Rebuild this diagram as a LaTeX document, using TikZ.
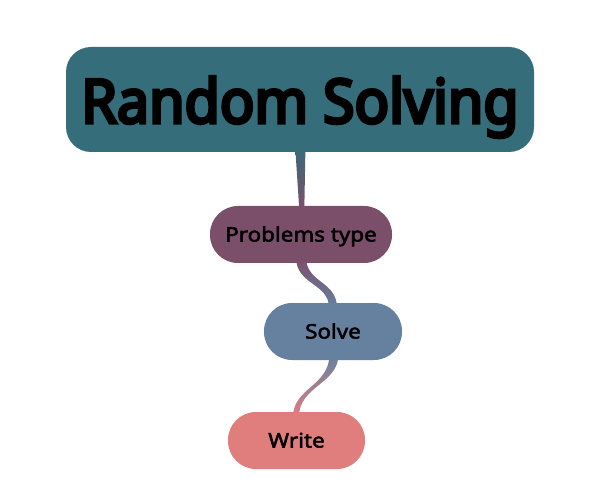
\documentclass[tikz,border=0pt]{standalone}
\usepackage{fontspec}
\setmainfont{Noto Sans}
\newfontfamily\semifont[FakeBold=2.6,FakeStretch=1.12]{Noto Sans}
\newfontfamily\rootfont[FakeBold=5.5,FakeStretch=0.94]{Noto Sans}
\usetikzlibrary{calc,backgrounds}
\definecolor{cteal}{RGB}{53,109,122}
\definecolor{cplum}{RGB}{123,79,106}
\definecolor{cblue}{RGB}{102,128,160}
\definecolor{cred}{RGB}{224,126,126}
\begin{document}
\begin{tikzpicture}[x=1pt,y=-1pt,
  box/.style={rounded corners=28pt, inner sep=0pt, text=black, minimum height=57pt},
  smalltext/.style={font=\semifont\fontsize{20}{24}\selectfont, text height=14pt, text depth=0pt}]
\useasboundingbox (0,0) rectangle (600,497);
\node[box, fill=cteal, rounded corners=25pt, minimum width=468pt, minimum height=105pt,
  font=\rootfont\fontsize{61}{70}\selectfont, text height=47pt, text depth=0pt] (root) at (300,99.5) {Random Solving};
\node[box, smalltext, fill=cplum, minimum width=182pt] (pt) at (301,234.5) {Problems type};
\node[box, smalltext, fill=cblue, minimum width=138pt] (solve) at (333,331.5) {Solve};
\node[box, smalltext, fill=cred, minimum width=137pt] (write) at (296.5,440.5) {Write};
\begin{scope}[on background layer]
\shade[top color=cteal, bottom color=cplum]
  ($(root.south)+(-5,-8)$) -- ($(root.south)+(5.5,-8)$) --
  ($(pt.north)+(3.3,4)$) -- ($(pt.north)+(-1.7,4)$) -- cycle;
\shade[top color=cplum, bottom color=cblue]
  ($(pt.south)+(-5,-6)$) .. controls ($(pt.south)+(-5,22)$) and ($(solve.north)+(-4,-20)$) ..
  ($(solve.north)+(-4,5)$) -- ($(solve.north)+(4,5)$)
  .. controls ($(solve.north)+(4,-22)$) and ($(pt.south)+(5,20)$) ..
  ($(pt.south)+(5,-6)$) -- cycle;
\shade[top color=cblue, bottom color=cred]
  ($(solve.south)+(-3.5,-6)$) .. controls ($(solve.south)+(-3.5,26)$) and ($(write.north)+(-3.5,-24)$) ..
  ($(write.north)+(-3.5,5)$) -- ($(write.north)+(2.5,5)$)
  .. controls ($(write.north)+(2.5,-26)$) and ($(solve.south)+(5.5,24)$) ..
  ($(solve.south)+(5.5,-6)$) -- cycle;
\end{scope}
\end{tikzpicture}
\end{document}
